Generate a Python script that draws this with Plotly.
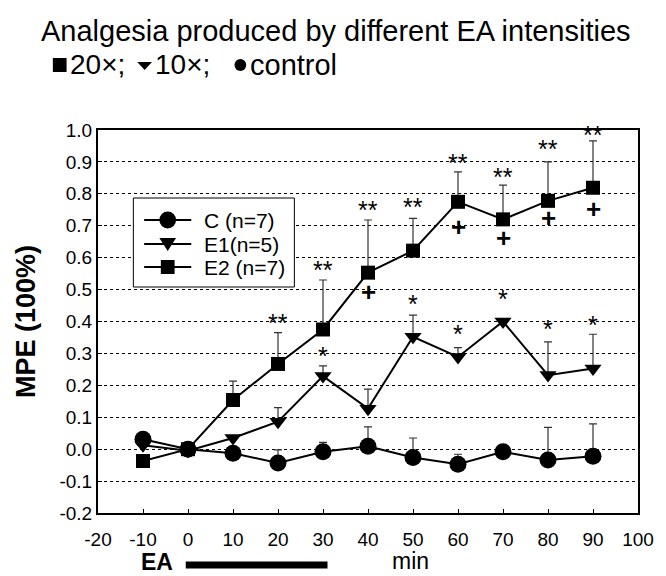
import plotly.graph_objects as go

minutes = [-10, 0, 10, 20, 30, 40, 50, 60, 70, 80, 90]

c_mean = [0.031, 0.0, -0.013, -0.043, -0.008, 0.009, -0.026, -0.047, -0.008, -0.034, -0.022]
c_err = [0.0, 0.0, 0.0, 0.041, 0.029, 0.061, 0.061, 0.031, 0.0, 0.102, 0.101]

e1_mean = [0.012, -0.005, 0.035, 0.086, 0.229, 0.127, 0.352, 0.289, 0.40, 0.232, 0.253]
e1_err = [0.0, 0.0, 0.0, 0.044, 0.032, 0.061, 0.068, 0.029, 0.0, 0.104, 0.107]

e2_mean = [-0.037, 0.0, 0.154, 0.267, 0.375, 0.553, 0.622, 0.775, 0.72, 0.778, 0.819]
e2_err = [0.0, 0.0, 0.059, 0.098, 0.155, 0.165, 0.101, 0.094, 0.107, 0.122, 0.147]

series_names = ["C (n=7)", "E1(n=5)", "E2 (n=7)"]

# significance marks
e2_stars_x = [20, 30, 40, 50, 60, 70, 80, 90]
e2_stars_y = [0.395, 0.56, 0.75, 0.76, 0.898, 0.852, 0.94, 0.985]
e1_stars_x = [30, 50, 60, 70, 80, 90]
e1_stars_y = [0.293, 0.455, 0.36, 0.47, 0.375, 0.39]
plus_x = [40, 60, 70, 80, 90]
plus_y = [0.493, 0.697, 0.662, 0.723, 0.752]

x_tickvals = [-20, -10, 0, 10, 20, 30, 40, 50, 60, 70, 80, 90, 100]
x_ticktext = ["-20", "-10", "0", "10", "20", "30", "40", "50", "60", "70", "80", "90", "100"]
y_tickvals = [-0.2, -0.1, 0.0, 0.1, 0.2, 0.3, 0.4, 0.5, 0.6, 0.7, 0.8, 0.9, 1.0]
y_ticktext = ["-0.2", "-0.1", "0.0", "0.1", "0.2", "0.3", "0.4", "0.5", "0.6", "0.7", "0.8", "0.9", "1.0"]

FONT = "Liberation Sans"
W, H = 666, 576
ml, mr, mt, mb = 98, 18, 130, 63
pw, ph = W - ml - mr, H - mt - mb


def fx(px):
    return (px - ml) / pw


def fy(py):
    return (H - mb - py) / ph


fig = go.Figure()

def add_series(name, y, err, symbol, size):
    fig.add_trace(go.Scatter(
        x=minutes, y=y, name=name, mode="lines+markers",
        line=dict(color="black", width=2),
        marker=dict(symbol=symbol, size=size, color="black"),
        error_y=dict(type="data", array=err, arrayminus=[0] * len(err),
                     symmetric=False, color="#333333", thickness=1.2, width=4),
        showlegend=False,
    ))

add_series(series_names[0], c_mean, c_err, "circle", 17)
add_series(series_names[1], e1_mean, e1_err, "triangle-down", 15)
add_series(series_names[2], e2_mean, e2_err, "square", 14)

annotations = []
for x, y in zip(e2_stars_x, e2_stars_y):
    annotations.append(dict(x=x, y=y, xref="x", yref="y", text="**", showarrow=False,
                            font=dict(size=25, color="black", family=FONT)))
for x, y in zip(e1_stars_x, e1_stars_y):
    annotations.append(dict(x=x, y=y, xref="x", yref="y", text="*", showarrow=False,
                            font=dict(size=25, color="black", family=FONT)))
for x, y in zip(plus_x, plus_y):
    annotations.append(dict(x=x, y=y, xref="x", yref="y", text="<b>+</b>", showarrow=False,
                            font=dict(size=26, color="black", family=FONT)))

def px_annot(px, py, text, size, xanchor="center", yanchor="middle"):
    return dict(x=fx(px), y=fy(py), xref="paper", yref="paper",
                text=text, showarrow=False, xanchor=xanchor, yanchor=yanchor,
                font=dict(size=size, color="black", family=FONT))

annotations += [
    px_annot(38, 31, "Analgesia produced by different EA intensities", 29, "left"),
    px_annot(67, 65, "20×;", 28, "left"),
    px_annot(154, 65, "10×;", 28, "left"),
    px_annot(251, 65, "control", 29, "left"),
    px_annot(158, 562, "<b>EA</b>", 23),
    px_annot(416, 576, "min", 23, "center", "bottom"),
]

shapes = [
    # EA stimulation bar (0-30 min)
    dict(type="line", xref="x", yref="paper", x0=-0.5, x1=31, y0=fy(565), y1=fy(565),
         line=dict(color="black", width=7)),
    # symbols in subtitle line
    dict(type="rect", xref="paper", yref="paper", x0=fx(52), x1=fx(66), y0=fy(72), y1=fy(58),
         fillcolor="black", line=dict(width=0)),
    dict(type="path", xref="paper", yref="paper",
         path=f"M {fx(138)} {fy(62)} L {fx(153)} {fy(62)} L {fx(145.5)} {fy(70)} Z",
         fillcolor="black", line=dict(width=0)),
    dict(type="circle", xref="paper", yref="paper", x0=fx(237), x1=fx(249), y0=fy(71), y1=fy(59),
         fillcolor="black", line=dict(width=0)),
]

# legend box (drawn manually to match compact row spacing)
lg_left, lg_top, lg_right, lg_bottom = 134, 198, 298, 287
shapes.append(dict(type="rect", xref="paper", yref="paper",
                   x0=fx(lg_left), x1=fx(lg_right), y0=fy(lg_bottom), y1=fy(lg_top),
                   fillcolor="white", line=dict(color="black", width=1), layer="above"))
row_y = [220, 244, 267]
for i, ry in enumerate(row_y):
    shapes.append(dict(type="line", xref="paper", yref="paper", x0=fx(145), x1=fx(193),
                       y0=fy(ry), y1=fy(ry), line=dict(color="black", width=2), layer="above"))
    annotations.append(px_annot(204, ry, series_names[i], 21, "left"))
mx = 169
shapes += [
    dict(type="circle", xref="paper", yref="paper", x0=fx(mx - 8.5), x1=fx(mx + 8.5),
         y0=fy(row_y[0] + 8.5), y1=fy(row_y[0] - 8.5), fillcolor="black",
         line=dict(width=0), layer="above"),
    dict(type="path", xref="paper", yref="paper",
         path=f"M {fx(mx - 8.5)} {fy(row_y[1] - 6)} L {fx(mx + 8.5)} {fy(row_y[1] - 6)} "
              f"L {fx(mx)} {fy(row_y[1] + 7)} Z",
         fillcolor="black", line=dict(width=0), layer="above"),
    dict(type="rect", xref="paper", yref="paper", x0=fx(mx - 7), x1=fx(mx + 7),
         y0=fy(row_y[2] + 7), y1=fy(row_y[2] - 7), fillcolor="black",
         line=dict(width=0), layer="above"),
]

fig.update_layout(
    width=W, height=H,
    margin=dict(l=ml, r=mr, t=mt, b=mb),
    paper_bgcolor="white", plot_bgcolor="white",
    font=dict(family=FONT, color="black", size=19),
    showlegend=False,
    annotations=annotations,
    shapes=shapes,
)

fig.update_xaxes(range=[-20, 100], tickvals=x_tickvals, ticktext=x_ticktext,
                 showgrid=False, zeroline=False,
                 showline=True, linecolor="black", linewidth=2, mirror=True,
                 ticks="inside", ticklen=4, tickcolor="black", ticklabelstandoff=8,
                 tickfont=dict(size=19))
fig.update_yaxes(range=[-0.2, 1.0], tickvals=y_tickvals, ticktext=y_ticktext,
                 showgrid=True, gridcolor="black", griddash="dot", gridwidth=1,
                 zeroline=False, showline=True, linecolor="black", linewidth=2, mirror=True,
                 ticks="inside", ticklen=4, tickcolor="black",
                 tickfont=dict(size=19),
                 title=dict(text="<b>MPE (100%)</b>", font=dict(size=27), standoff=16))

fig.write_html("out.html")
